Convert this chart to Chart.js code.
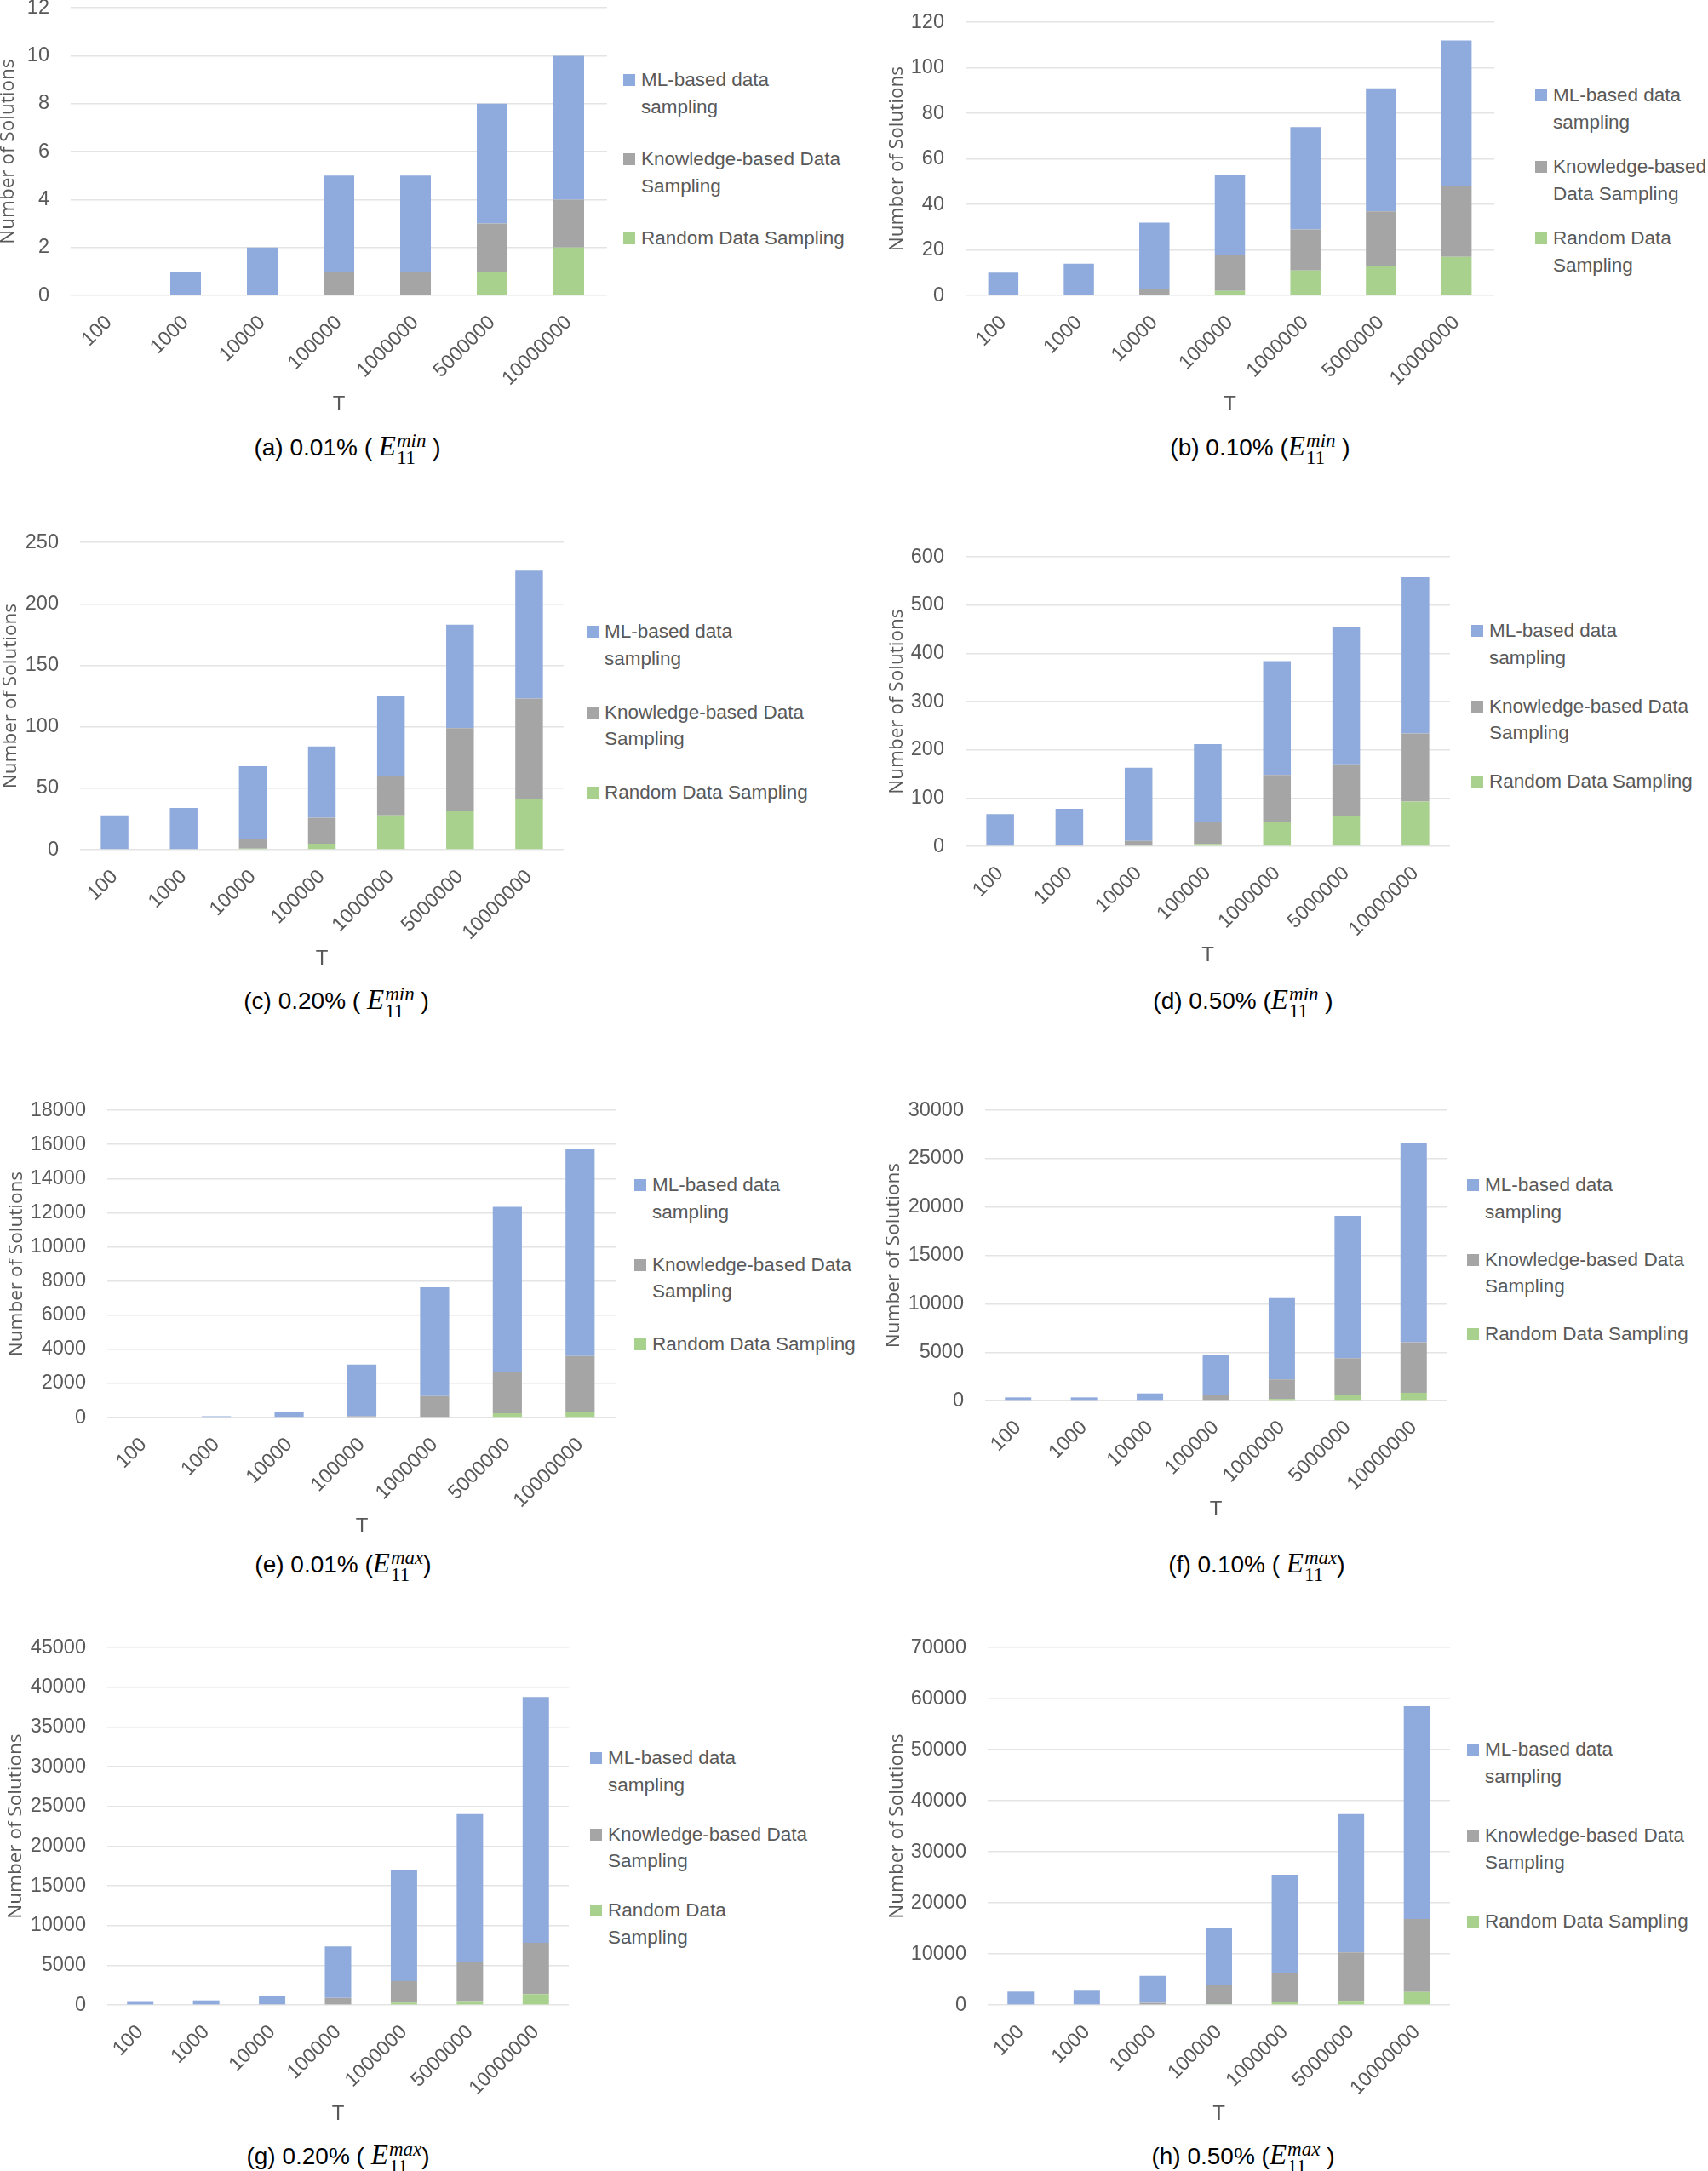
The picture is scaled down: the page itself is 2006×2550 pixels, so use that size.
<!DOCTYPE html>
<html>
<head>
<meta charset="utf-8">
<title>Number of solutions by T</title>
<script src="https://cdn.jsdelivr.net/npm/chart.js@4.4.1/dist/chart.umd.min.js"></script>
<style>
  body { margin: 0; background: #fff; }
  #page { position: relative; width: 2006px; height: 2550px; overflow: hidden; background: #fff;
          font-family: 'Liberation Sans', Arial, sans-serif; color: #595959; }
  .box { position: absolute; }
  .legend { position: absolute; font-size: 22.5px; line-height: 31.5px; color: #595959; }
  .item { position: absolute; left: 0; white-space: nowrap; padding-left: 21px; }
  .item .sw { position: absolute; left: 0; top: 9px; width: 14px; height: 14px; }
  .cap { position: absolute; transform: translate(-50%, -50%); font-size: 28px; color: #000; white-space: nowrap; }
  .cap .E { font-family: 'Liberation Serif', serif; font-style: italic; font-size: 33px; }
  .cap .ss { display: inline-block; vertical-align: middle; line-height: 0.85; font-family: 'Liberation Serif', serif;
             font-size: 23px; text-align: left; margin-left: 1px; }
  .cap .ss span { display: block; }
  .cap .ss .up { font-style: italic; }
</style>
</head>
<body>
<div id="page"></div>
<script>
// categories on the T axis
const categories = ['100', '1000', '10000', '100000', '1000000', '5000000', '10000000'];
const seriesNames = ['ML-based data sampling', 'Knowledge-based Data Sampling', 'Random Data Sampling'];
const seriesColors = ['#8FAADC', '#A5A5A5', '#A9D18E'];

// (a) 0.01% E11 min
const mlA = [0, 1, 2, 4, 4, 5, 6];
const kbA = [0, 0, 0, 1, 1, 2, 2];
const rdA = [0, 0, 0, 0, 0, 1, 2];
// (b) 0.10% E11 min
const mlB = [10, 14, 29, 35, 45, 54, 64];
const kbB = [0, 0, 3, 16, 18, 24, 31];
const rdB = [0, 0, 0, 2, 11, 13, 17];
// (c) 0.20% E11 min
const mlC = [28, 34, 59, 58, 65, 84, 104];
const kbC = [0, 0, 8, 21, 32, 67, 82];
const rdC = [0, 0, 1, 5, 28, 32, 41];
// (d) 0.50% E11 min
const mlD = [67, 76, 152, 162, 236, 285, 324];
const kbD = [0, 2, 11, 45, 98, 108, 141];
const rdD = [0, 0, 0, 5, 50, 62, 93];
// (e) 0.01% E11 max
const mlE = [40, 80, 340, 3035, 6380, 9700, 12150];
const kbE = [0, 0, 0, 80, 1220, 2400, 3270];
const rdE = [0, 0, 0, 0, 40, 250, 340];
// (f) 0.10% E11 max
const mlF = [330, 330, 740, 4150, 8400, 14720, 20560];
const kbF = [0, 0, 0, 570, 2020, 3840, 5220];
const rdF = [0, 0, 0, 0, 170, 540, 810];
// (g) 0.20% E11 max
const mlG = [490, 580, 1060, 6480, 13950, 18655, 30960];
const kbG = [0, 0, 90, 890, 2710, 4885, 6440];
const rdG = [0, 0, 0, 0, 310, 490, 1380];
// (h) 0.50% E11 max
const mlH = [2630, 2970, 5325, 11120, 19140, 27080, 41670];
const kbH = [0, 0, 415, 3810, 5740, 9470, 14300];
const rdH = [0, 0, 0, 200, 620, 830, 2560];

// y axis ticks
const yMax = [12, 120, 250, 600, 18000, 30000, 45000, 70000];
const yStep = [2, 20, 50, 100, 2000, 5000, 5000, 10000];

// captions
const capTag = ['(a) 0.01%', '(b) 0.10%', '(c) 0.20%', '(d) 0.50%', '(e) 0.01%', '(f) 0.10%', '(g) 0.20%', '(h) 0.50%'];
const capBound = ['min', 'min', 'min', 'min', 'max', 'max', 'max', 'max'];

const panelData = [
  [mlA, kbA, rdA], [mlB, kbB, rdB], [mlC, kbC, rdC], [mlD, kbD, rdD],
  [mlE, kbE, rdE], [mlF, kbF, rdF], [mlG, kbG, rdG], [mlH, kbH, rdH]
];

// layout (px in page)
const layout = [
  { l: 83,   r: 713,  t: 9,    z: 347,  yt: 10,   lx: 732,  ly: 94,   gap: 93,   cx: 408,  cy: 527,  kbW: 2, rdW: 3, open: '( ', close: ' )' },
  { l: 1134, r: 1755, t: 26,   z: 347,  yt: 1054, lx: 1803, ly: 112,  gap: 84,   cx: 1480, cy: 527,  kbW: 1, rdW: 2, open: '(',  close: ' )' },
  { l: 94,   r: 662,  t: 637,  z: 998,  yt: 13,   lx: 689,  ly: 742,  gap: 94.5, cx: 395,  cy: 1177, kbW: 2, rdW: 3, open: '( ', close: ' )' },
  { l: 1134, r: 1703, t: 654,  z: 994,  yt: 1054, lx: 1728, ly: 741,  gap: 88.5, cx: 1460, cy: 1177, kbW: 2, rdW: 3, open: '(',  close: ' )' },
  { l: 126,  r: 724,  t: 1304, z: 1665, yt: 20,   lx: 745,  ly: 1392, gap: 93.5, cx: 403,  cy: 1839, kbW: 2, rdW: 3, open: '(',  close: ')' },
  { l: 1157, r: 1699, t: 1304, z: 1645, yt: 1050, lx: 1723, ly: 1392, gap: 87.5, cx: 1476, cy: 1839, kbW: 2, rdW: 3, open: '( ', close: ')' },
  { l: 126,  r: 668,  t: 1935, z: 2355, yt: 19,   lx: 693,  ly: 2065, gap: 89.5, cx: 397,  cy: 2534, kbW: 2, rdW: 2, open: '( ', close: ')' },
  { l: 1160, r: 1703, t: 1935, z: 2355, yt: 1054, lx: 1723, ly: 2055, gap: 101,  cx: 1460, cy: 2534, kbW: 2, rdW: 3, open: '(',  close: ' )' }
];

const page = document.getElementById('page');
const tickFont = { family: "'Liberation Sans', Arial, sans-serif", size: 23.5, lineHeight: 1.2 };
const yTickPad = 25;

function wrapLabel(text, firstWords) {
  const w = text.split(' ');
  if (firstWords >= w.length) return text;
  return w.slice(0, firstWords).join(' ') + '<br>' + w.slice(firstWords).join(' ');
}

function makePanel(i) {
  const L = layout[i];
  const [ml, kb, rd] = panelData[i];
  const left = L.yt - 14;
  const wy = L.l - left;
  // chart.js reserves half a tick label plus the tick padding above the top gridline
  const padTop = tickFont.size * tickFont.lineHeight / 2 + yTickPad;
  const xH = 143;
  const box = document.createElement('div');
  box.className = 'box';
  box.style.left = left + 'px';
  box.style.top = (L.t - padTop) + 'px';
  box.style.width = (wy + (L.r - L.l) + 4) + 'px';
  box.style.height = (padTop + (L.z - L.t) + xH) + 'px';
  const cv = document.createElement('canvas');
  box.appendChild(cv);
  page.appendChild(box);

  new Chart(cv, {
    type: 'bar',
    data: {
      labels: categories,
      datasets: [
        { label: seriesNames[2], data: rd, backgroundColor: seriesColors[2] },
        { label: seriesNames[1], data: kb, backgroundColor: seriesColors[1] },
        { label: seriesNames[0], data: ml, backgroundColor: seriesColors[0] }
      ]
    },
    options: {
      responsive: true,
      maintainAspectRatio: false,
      animation: false,
      layout: { padding: { top: 3, right: 4, left: 0, bottom: 0 } },
      datasets: { bar: { barPercentage: 0.4, categoryPercentage: 1, borderWidth: 0 } },
      plugins: { legend: { display: false }, tooltip: { enabled: false } },
      scales: {
        x: {
          stacked: true,
          grid: { display: false },
          border: { display: false },
          ticks: { color: '#595959', font: tickFont, maxRotation: 45, minRotation: 45, autoSkip: false, padding: 10 },
          title: { display: true, text: 'T', color: '#595959', font: { family: tickFont.family, size: 24, lineHeight: 1.2 }, padding: 0 },
          afterFit: s => { s.height = xH; }
        },
        y: {
          stacked: true,
          min: 0,
          max: yMax[i],
          grid: { color: '#E4E4E4', lineWidth: 1.5, drawTicks: false },
          border: { display: false },
          ticks: { stepSize: yStep[i], color: '#595959', font: tickFont, padding: yTickPad, callback: v => String(v) },
          title: { display: true, text: 'Number of Solutions', color: '#595959',
                   font: { family: "'Open Sans', 'DejaVu Sans', sans-serif", size: 22.5, lineHeight: 1.2 }, padding: 0 },
          afterFit: s => { s.width = wy; }
        }
      }
    }
  });

  // legend on the right
  const leg = document.createElement('div');
  leg.className = 'legend';
  leg.style.left = L.lx + 'px';
  leg.style.top = (L.ly - 15.75) + 'px';
  const words = [2, L.kbW, L.rdW];
  seriesNames.forEach((name, k) => {
    const it = document.createElement('div');
    it.className = 'item';
    it.style.top = (k * L.gap) + 'px';
    it.innerHTML = '<span class="sw" style="background:' + seriesColors[k] + '"></span>' + wrapLabel(name, words[k]);
    leg.appendChild(it);
  });
  page.appendChild(leg);

  // caption under the chart
  const cap = document.createElement('div');
  cap.className = 'cap';
  cap.style.left = L.cx + 'px';
  cap.style.top = L.cy + 'px';
  cap.innerHTML = capTag[i] + ' ' + L.open.replace(' ', '&nbsp;') + '<span class="E">E</span>' +
    '<span class="ss"><span class="up">' + capBound[i] + '</span><span>11</span></span>' + L.close.replace(' ', '&nbsp;');
  page.appendChild(cap);
}

for (let i = 0; i < 8; i++) makePanel(i);
</script>
</body>
</html>
